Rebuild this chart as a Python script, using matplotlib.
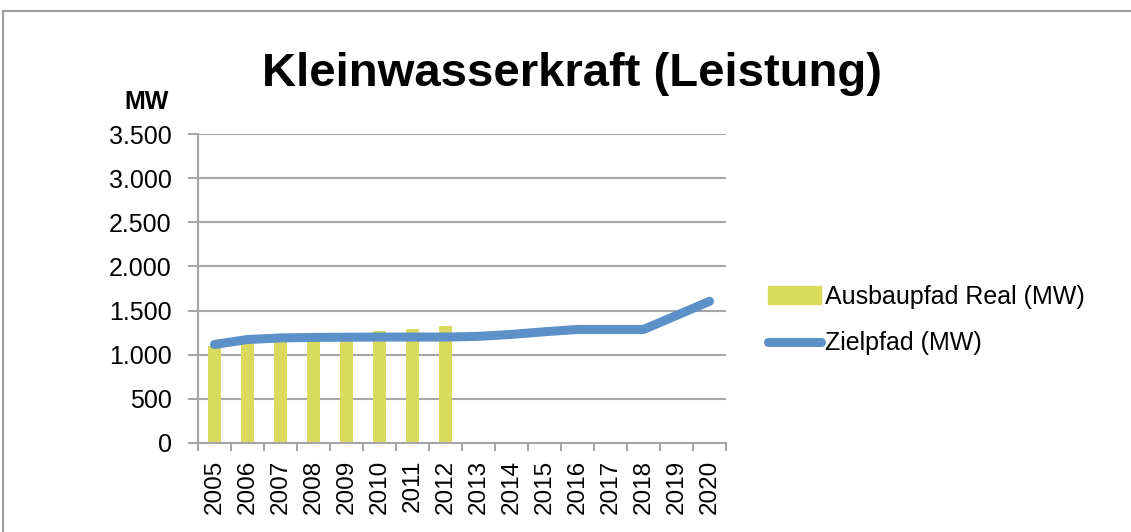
import numpy as np
import matplotlib.pyplot as plt
from matplotlib.patches import Rectangle
from matplotlib.lines import Line2D

plt.rcParams['font.family'] = ['Liberation Sans', 'DejaVu Sans']

years = [str(y) for y in range(2005, 2021)]
real_years = years[:8]
real_mw = [1100, 1150, 1170, 1180, 1190, 1263, 1290, 1327]
ziel_mw = [1116, 1172, 1190, 1196, 1198, 1200, 1200, 1200,
           1208, 1230, 1260, 1286, 1286, 1286, 1445, 1605]
yticks = [0, 500, 1000, 1500, 2000, 2500, 3000, 3500]
ytick_labels = ['0', '500', '1.000', '1.500', '2.000', '2.500', '3.000', '3.500']

bar_color = '#DADB5E'
line_color = '#5B90C8'
grid_color = '#A6A6A6'

fig = plt.figure(figsize=(11.31, 5.32), dpi=100)
fig.patches.append(Rectangle((3 / 1131, -0.1), 1.2, 1 - 11 / 532 + 0.1,
                             transform=fig.transFigure, fill=False,
                             edgecolor='#9C9C9C', linewidth=1.5))

ax = fig.add_axes([198 / 1131, 1 - 443 / 532, 528 / 1131, 309 / 532])
x = np.arange(len(years))
ax.bar(np.arange(len(real_years)), real_mw, width=0.38, color=bar_color, zorder=2)
ax.plot(x, ziel_mw, color=line_color, linewidth=6.5, solid_capstyle='round',
        solid_joinstyle='round', zorder=3)

ax.set_xlim(-0.5, len(years) - 0.5)
ax.set_ylim(0, 3500)
ax.set_yticks(yticks)
ax.set_yticklabels(ytick_labels, fontsize=18)
ax.set_xticks(x)
ax.set_xticklabels(years, rotation=90, fontsize=17.5)
ax.set_xticks(np.arange(len(years) + 1) - 0.5, minor=True)
ax.tick_params(axis='x', which='major', length=0, pad=12)
ax.tick_params(axis='x', which='minor', length=6, width=1.5, color=grid_color)
ax.tick_params(axis='y', length=7, width=1.5, color=grid_color, pad=12)
ax.yaxis.grid(True, color=grid_color, linewidth=1.5, zorder=0)
ax.set_axisbelow(True)
for s in ['top', 'right']:
    ax.spines[s].set_visible(False)
for s in ['left', 'bottom']:
    ax.spines[s].set_color(grid_color)
    ax.spines[s].set_linewidth(1.5)

fig.text(572 / 1131, 1 - 74 / 532, 'Kleinwasserkraft (Leistung)', ha='center',
         va='center', fontsize=34, fontweight='bold')
fig.text(147 / 1131, 1 - 102 / 532, 'MW', ha='center', va='center',
         fontsize=18, fontweight='bold')

handles = [Rectangle((0, 0), 1, 1, color=bar_color),
           Line2D([0], [0], color=line_color, linewidth=6.5, solid_capstyle='round')]
fig.legend(handles, ['Ausbaupfad Real (MW)', 'Zielpfad (MW)'],
           loc='center left', bbox_to_anchor=(768 / 1131, 1 - 320 / 532),
           frameon=False, fontsize=18, handlelength=2.1, handletextpad=0.18,
           labelspacing=0.9, borderpad=0, borderaxespad=0)

fig.savefig('out.png', dpi=100)
